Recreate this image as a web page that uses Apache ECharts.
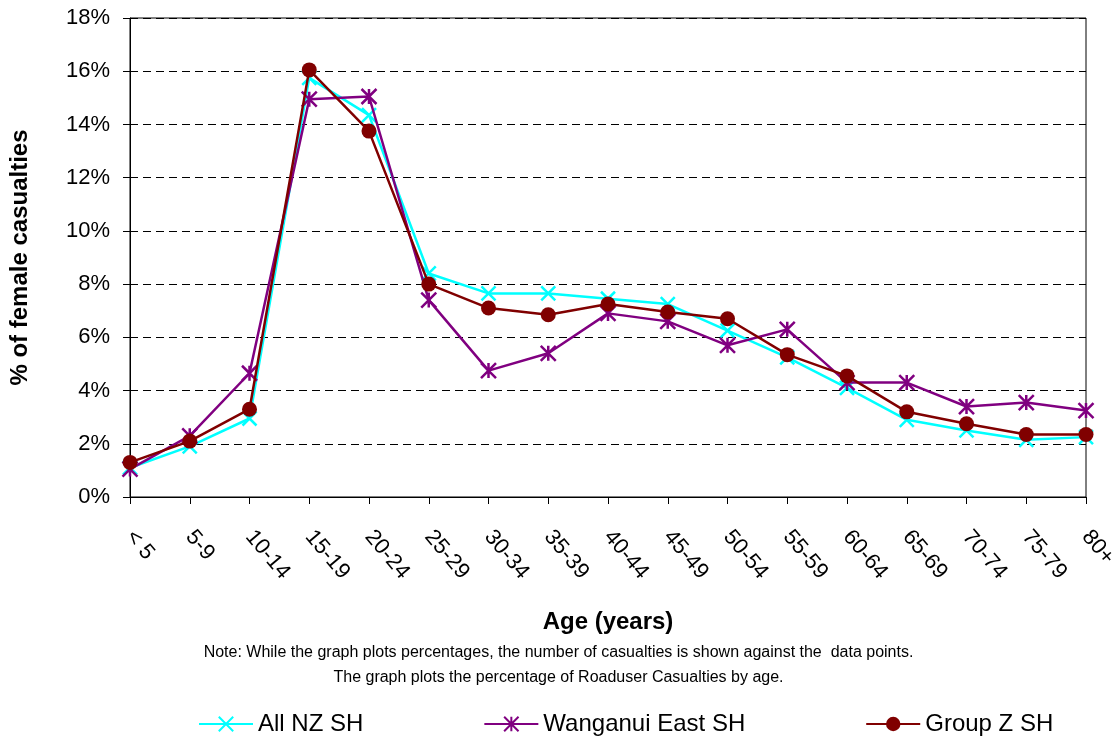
<!DOCTYPE html>
<html>
<head>
<meta charset="utf-8">
<script src="https://cdn.jsdelivr.net/npm/echarts@6/dist/echarts.min.js"></script>
<style>
  html, body { margin: 0; padding: 0; background: #fff; }
  #chart { width: 1117px; height: 738px; }
</style>
</head>
<body>
<div id="chart"></div>
<script>
// age groups on the x axis
var ageGroups = ['< 5', '5-9', '10-14', '15-19', '20-24', '25-29', '30-34', '35-39', '40-44',
  '45-49', '50-54', '55-59', '60-64', '65-69', '70-74', '75-79', '80+'];

// % of female casualties
var allNZ = [1.1, 1.9, 2.95, 15.75, 14.35, 8.4, 7.65, 7.65, 7.45, 7.25, 6.25, 5.25, 4.1, 2.9, 2.5, 2.15, 2.25];
var wanganuiEast = [1.05, 2.3, 4.65, 14.95, 15.05, 7.4, 4.75, 5.4, 6.9, 6.6, 5.7, 6.3, 4.3, 4.3, 3.4, 3.55, 3.25];
var groupZ = [1.3, 2.1, 3.3, 16.05, 13.75, 8.0, 7.1, 6.85, 7.25, 6.95, 6.7, 5.35, 4.55, 3.2, 2.75, 2.35, 2.35];

var font = 'Arial, "Liberation Sans", sans-serif';

var chart = echarts.init(document.getElementById('chart'));

chart.setOption({
  backgroundColor: '#fff',
  animation: false,
  textStyle: { fontFamily: font },
  grid: {
    left: 130,
    right: 31,
    top: 18,
    bottom: 241,
    containLabel: false,
    outerBoundsMode: 'none',
    show: true,
    borderColor: '#000',
    borderWidth: 1
  },
  legend: {
    left: 193,
    top: 707,
    itemWidth: 54,
    itemHeight: 18,
    itemGap: 120,
    textStyle: { fontSize: 24, color: '#000', fontFamily: font },
    data: ['All NZ SH', 'Wanganui East SH', 'Group Z SH']
  },
  xAxis: {
    type: 'category',
    boundaryGap: false,
    data: ageGroups,
    name: 'Age (years)',
    nameLocation: 'middle',
    nameGap: 113,
    nameTextStyle: { fontSize: 24, fontWeight: 'bold', color: '#000', fontFamily: font },
    axisLine: { lineStyle: { color: '#000', width: 1 } },
    axisTick: { show: true, length: 7, alignWithLabel: true, lineStyle: { color: '#000' } },
    axisLabel: {
      rotate: -50,
      margin: 36,
      fontSize: 22,
      color: '#000',
      fontFamily: font,
      interval: 0
    },
    splitLine: { show: false }
  },
  yAxis: {
    type: 'value',
    min: 0,
    max: 18,
    interval: 2,
    name: '% of female casualties',
    nameLocation: 'middle',
    nameGap: 98,
    nameRotate: 90,
    nameTextStyle: { fontSize: 24, fontWeight: 'bold', color: '#000', fontFamily: font },
    axisLine: { show: true, lineStyle: { color: '#000', width: 1 } },
    axisTick: { show: true, length: 7, lineStyle: { color: '#000' } },
    axisLabel: {
      formatter: '{value}%',
      fontSize: 22,
      margin: 20,
      color: '#000',
      fontFamily: font
    },
    splitLine: { show: true, lineStyle: { color: '#000', type: [8, 5], width: 1 } }
  },
  graphic: [
    {
      type: 'text',
      left: 'center',
      top: 645,
      style: {
        text: 'Note: While the graph plots percentages, the number of casualties is shown against the  data points.',
        font: '16px ' + font,
        fill: '#000'
      }
    },
    {
      type: 'text',
      left: 'center',
      top: 670,
      style: {
        text: 'The graph plots the percentage of Roaduser Casualties by age.',
        font: '16px ' + font,
        fill: '#000'
      }
    }
  ],
  series: [
    {
      name: 'All NZ SH',
      type: 'line',
      data: allNZ,
      color: '#00FFFF',
      symbol: 'path://M0,0L10,10M10,0L0,10',
      symbolSize: 14,
      showAllSymbol: true,
      lineStyle: { width: 2.5, color: '#00FFFF' },
      itemStyle: { color: '#00FFFF', borderColor: '#00FFFF', borderWidth: 2.5 },
      z: 2
    },
    {
      name: 'Wanganui East SH',
      type: 'line',
      data: wanganuiEast,
      color: '#800080',
      symbol: 'path://M0,0L10,10M10,0L0,10M5,0L5,10',
      symbolSize: 15,
      showAllSymbol: true,
      lineStyle: { width: 2.5, color: '#800080' },
      itemStyle: { color: '#800080', borderColor: '#800080', borderWidth: 2.5 },
      z: 3
    },
    {
      name: 'Group Z SH',
      type: 'line',
      data: groupZ,
      color: '#800000',
      symbol: 'circle',
      symbolSize: 15,
      showAllSymbol: true,
      lineStyle: { width: 2.5, color: '#800000' },
      itemStyle: { color: '#800000', borderWidth: 0 },
      z: 4
    }
  ]
});
</script>
</body>
</html>
